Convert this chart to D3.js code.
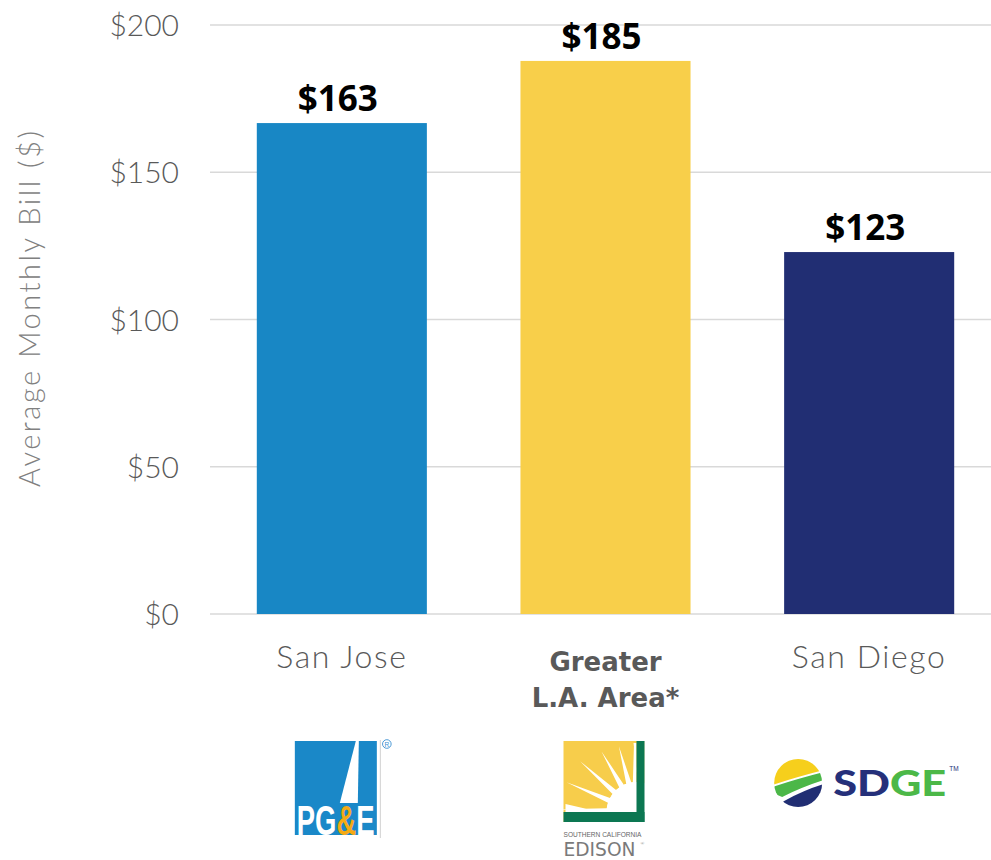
<!DOCTYPE html>
<html>
<head>
<meta charset="utf-8">
<script src="https://cdn.jsdelivr.net/npm/d3@7"></script>
<style>
  html, body { margin: 0; padding: 0; background: #ffffff; }
  svg { display: block; }
</style>
</head>
<body>
<div id="chart"></div>
<script>
// ---- data ----
const categories = ["San Jose", "Greater L.A. Area*", "San Diego"];
const categoryLines = [["San Jose"], ["Greater", "L.A. Area*"], ["San Diego"]];
const categoryBold = [false, true, false];
const barValues = [166.7, 187.8, 122.9];        // bar heights as drawn
const valueLabels = ["$163", "$185", "$123"];   // printed data labels
const barColors = ["#1887c5", "#f8cf4a", "#212e73"];
const tickValues = [0, 50, 100, 150, 200];
const tickLabels = ["$0", "$50", "$100", "$150", "$200"];
const yTitle = "Average Monthly Bill ($)";
const logos = ["pge", "edison", "sdge"];

const W = 991, H = 860;
const svg = d3.select("#chart").append("svg").attr("width", W).attr("height", H);

const x = d3.scaleBand().domain(categories).range([210, 1001]).paddingInner(0.355).paddingOuter(0.1775);
const y = d3.scaleLinear().domain([0, 200]).range([614, 25]);

const lightFont = "Lato, 'Open Sans', sans-serif";

// gridlines
svg.append("g").selectAll("line").data(tickValues).join("line")
  .attr("x1", 210).attr("x2", W)
  .attr("y1", d => y(d)).attr("y2", d => y(d))
  .attr("stroke", "#d9d9d9").attr("stroke-width", 1.6);

// y axis tick labels via d3 axis
const yAxis = d3.axisLeft(y).tickValues(tickValues).tickFormat((d, i) => tickLabels[i]).tickSize(0).tickPadding(0);
const yg = svg.append("g").attr("transform", "translate(179,0)").call(yAxis);
yg.select(".domain").remove();
yg.selectAll("text")
  .attr("font-family", lightFont).attr("font-weight", 300)
  .attr("font-size", 30).attr("fill", "#595959").attr("dy", "0.35em");

// y title
svg.append("text")
  .attr("transform", "translate(40,309) rotate(-90)")
  .attr("text-anchor", "middle")
  .attr("font-family", lightFont).attr("font-weight", 300)
  .attr("font-size", 29).attr("fill", "#808080")
  .attr("textLength", 356).attr("lengthAdjust", "spacing")
  .text(yTitle);

// bars
svg.append("g").selectAll("rect").data(categories).join("rect")
  .attr("x", d => x(d)).attr("width", x.bandwidth())
  .attr("y", (d, i) => y(barValues[i]))
  .attr("height", (d, i) => y(0) - y(barValues[i]))
  .attr("fill", (d, i) => barColors[i]);

// value labels
svg.append("g").selectAll("text").data(categories).join("text")
  .attr("x", d => x(d) + x.bandwidth() / 2 - 4)
  .attr("y", (d, i) => y(barValues[i]) - 12)
  .attr("text-anchor", "middle")
  .attr("font-family", "'Open Sans', sans-serif").attr("font-weight", 700)
  .attr("font-size", 35).attr("fill", "#000")
  .text((d, i) => valueLabels[i]);

// category labels
categories.forEach((c, i) => {
  const cxp = x(c) + x.bandwidth() / 2;
  const t = svg.append("text")
    .attr("x", cxp)
    .attr("text-anchor", "middle")
    .attr("fill", "#595959");
  if (categoryBold[i]) {
    t.attr("font-family", "'DejaVu Sans', sans-serif").attr("font-weight", 700).attr("font-size", 26);
    categoryLines[i].forEach((ln, k) => {
      t.append("tspan").attr("x", cxp).attr("y", 671 + k * 36).text(ln);
    });
  } else {
    t.attr("font-family", lightFont).attr("font-weight", 300).attr("font-size", 32)
      .attr("letter-spacing", 1.6).attr("y", 668).text(categoryLines[i][0]);
  }
});

// ---- logos (decorative) ----
function drawPGE(g) {
  g.append("rect").attr("x", -47).attr("y", 741).attr("width", 82).attr("height", 94).attr("fill", "#1a88c8");
  g.append("path").attr("d", "M14,741 L17,741 L16,803 L-2,803 Z").attr("fill", "#fff");
  const t = g.append("text").attr("transform", "translate(-45,835) scale(0.58,1)")
    .attr("font-family", "'Liberation Sans', Arial, sans-serif").attr("font-weight", 700)
    .attr("font-size", 43).attr("fill", "#fff").attr("textLength", 134).attr("lengthAdjust", "spacingAndGlyphs");
  t.append("tspan").text("PG");
  t.append("tspan").attr("fill", "#f5aa14").text("&");
  t.append("tspan").text("E");
  g.append("line").attr("x1", 38.5).attr("x2", 38.5).attr("y1", 740).attr("y2", 838).attr("stroke", "#d0d0d0").attr("stroke-width", 1);
  g.append("circle").attr("cx", 45).attr("cy", 744).attr("r", 4.3).attr("fill", "none").attr("stroke", "#3a8fd0").attr("stroke-width", 0.9);
  g.append("text").attr("x", 45).attr("y", 746.5).attr("text-anchor", "middle").attr("font-size", 6.5)
    .attr("font-family", "'Liberation Sans', sans-serif").attr("fill", "#3a8fd0").text("R");
}
function drawEdison(g) {
  const x0 = -42, y0 = 741, s = 81;
  g.append("rect").attr("x", x0).attr("y", y0).attr("width", s).attr("height", s).attr("fill", "#f7cd4b");
  const cx = x0 + s - 8, cy = y0 + s - 10;
  const core = 30;
  const rays = [[182, 78], [203, 76], [222, 76], [240, 70], [255, 68], [268, 70]];
  let pts = [];
  pts.push([cx, cy]);
  pts.push([x0 + 2, cy]);
  pts.push([x0 + 2, cy - 8]);
  rays.forEach(([a, L]) => {
    const r = a * Math.PI / 180;
    const w = 5 * Math.PI / 180;
    pts.push([cx + core * Math.cos(r - w), cy + core * Math.sin(r - w)]);
    pts.push([cx + L * Math.cos(r), cy + L * Math.sin(r)]);
    pts.push([cx + core * Math.cos(r + w), cy + core * Math.sin(r + w)]);
  });
  pts.push([cx - 3, y0 + 2]);
  pts.push([cx, y0 + 2]);
  g.append("path").attr("d", d3.line()(pts) + "Z").attr("fill", "#fff");
  g.append("circle").attr("cx", cx).attr("cy", cy).attr("r", core).attr("fill", "#fff");
  g.append("rect").attr("x", x0 + s).attr("y", y0 - 2).attr("width", 20).attr("height", s + 4).attr("fill", "#fff");
  g.append("rect").attr("x", x0 + s - 8).attr("y", y0).attr("width", 8).attr("height", s).attr("fill", "#0c7752");
  g.append("rect").attr("x", x0).attr("y", y0 + s - 10).attr("width", s).attr("height", 10).attr("fill", "#0c7752");
  g.append("text").attr("x", x0).attr("y", 837).attr("font-family", "'Liberation Sans', sans-serif")
    .attr("font-size", 7).attr("fill", "#666").attr("textLength", 78).attr("lengthAdjust", "spacingAndGlyphs")
    .text("SOUTHERN CALIFORNIA");
  g.append("text").attr("x", x0).attr("y", 856).attr("font-family", "'DejaVu Sans', sans-serif")
    .attr("font-size", 20).attr("fill", "#7a7a7a").attr("textLength", 72).attr("lengthAdjust", "spacingAndGlyphs")
    .text("EDISON");
  g.append("text").attr("x", x0 + 77).attr("y", 845).attr("font-size", 5).attr("fill", "#7a7a7a").text("®");
}
function drawSDGE(g) {
  const cx = -71, cy = 783, r = 24;
  const clipId = "sdgeClip";
  g.append("clipPath").attr("id", clipId).append("circle").attr("cx", 0).attr("cy", 0).attr("r", r);
  const cg = g.append("g").attr("transform", `translate(${cx},${cy})`)
    .append("g").attr("clip-path", `url(#${clipId})`);
  cg.append("rect").attr("x", -r).attr("y", -r).attr("width", 2 * r).attr("height", 2 * r).attr("fill", "#fff");
  cg.append("path").attr("d", "M-26,-26 L26,-26 L26,-13 Q2,-7 -26,2 Z").attr("fill", "#f6cf1c");
  cg.append("path").attr("d", "M-26,4 Q2,-5 26,-11 L26,-3 Q4,4 -16,14 Q-22,12 -26,8 Z").attr("fill", "#4cb748");
  cg.append("path").attr("d", "M-14,18 Q6,7 26,1 L26,26 L-26,26 Z").attr("fill", "#212e73");
  const t = g.append("text").attr("x", -36).attr("y", 795.5)
    .attr("font-family", "Lato, 'Noto Sans', sans-serif").attr("font-weight", 900)
    .attr("font-size", 36).attr("textLength", 113).attr("lengthAdjust", "spacingAndGlyphs");
  t.append("tspan").attr("fill", "#25307a").text("SD");
  t.append("tspan").attr("fill", "#4cb848").text("GE");
  g.append("text").attr("x", 80).attr("y", 771).attr("font-family", "'Liberation Sans', sans-serif")
    .attr("font-size", 6.5).attr("fill", "#25307a").text("TM");
}
const drawers = { pge: drawPGE, edison: drawEdison, sdge: drawSDGE };
categories.forEach((c, i) => {
  const g = svg.append("g").attr("transform", `translate(${x(c) + x.bandwidth() / 2},0)`);
  drawers[logos[i]](g);
});
</script>
</body>
</html>
